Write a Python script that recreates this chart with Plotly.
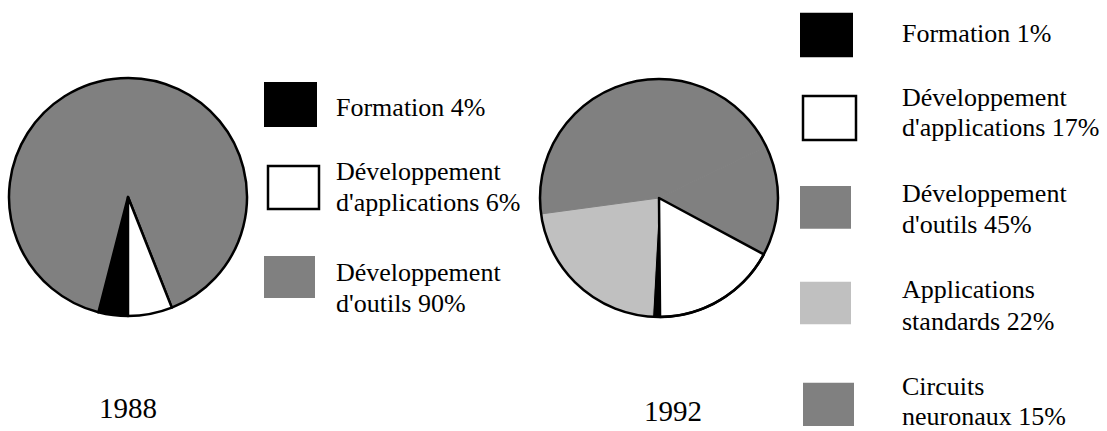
import plotly.graph_objects as go

W, H = 1107, 431
FONT = 'Liberation Serif, "Times New Roman", serif'

# DATA
cats_1988 = ['Formation', "Développement d'applications", "Développement d'outils"]
vals_1988 = [4, 6, 90]
colors_1988 = ['#000000', '#ffffff', '#808080']

cats_1992 = ['Formation', "Développement d'applications", "Développement d'outils",
             'Applications standards', 'Circuits neuronaux']
vals_1992 = [1, 17, 45, 22, 15]
colors_1992 = ['#000000', '#ffffff', '#808080', '#c0c0c0', '#808080']

years = ['1988', '1992']


def px(x):
    return x / W


def py(y):
    return 1 - y / H


def domain(cx, cy, r):
    return dict(x=[px(cx - r), px(cx + r)], y=[py(cy + r), py(cy - r)])


def legend_text(cat, val):
    words = cat.split(' ', 1)
    if len(words) == 1:
        return [f'{cat} {val}%']
    return [words[0], f'{words[1]} {val}%']


fig = go.Figure()

# 1988 pie (slice order chosen so the white wedge is drawn last)
order = [0, 2, 1]
fig.add_trace(go.Pie(
    labels=[cats_1988[i] for i in order], values=[vals_1988[i] for i in order],
    marker=dict(colors=[colors_1988[i] for i in order], line=dict(color='black', width=2.5)),
    sort=False, direction='clockwise', rotation=180, textinfo='none',
    showlegend=False, domain=domain(128, 197, 119)))

# 1992 pie: grey slices get an outline of their own colour so no seam shows
order = [0, 3, 2, 4, 1]
edge = {0: ('black', 1), 1: ('black', 2.5), 2: ('#808080', 1), 3: ('#c0c0c0', 1), 4: ('#808080', 1)}
fig.add_trace(go.Pie(
    labels=[cats_1992[i] for i in order], values=[vals_1992[i] for i in order],
    marker=dict(colors=[colors_1992[i] for i in order],
                line=dict(color=[edge[i][0] for i in order], width=[edge[i][1] for i in order])),
    sort=False, direction='clockwise', rotation=179.5, textinfo='none',
    showlegend=False, domain=domain(659, 198, 119)))
# outer circle of the 1992 pie
fig.add_trace(go.Pie(
    labels=['contour'], values=[1],
    marker=dict(colors=['rgba(0,0,0,0)'], line=dict(color='black', width=2.5)),
    textinfo='none', hoverinfo='skip', showlegend=False, domain=domain(659, 198, 119)))

# hand-drawn legends: swatch boxes and text baselines (pixels)
legend_1988 = [((264, 82, 317, 127), [116.7]),
               ((268, 166, 319, 209), [180, 211.7]),
               ((264, 256, 315, 298), [281.7, 312.7])]
legend_1992 = [((800, 12.7, 853, 57.3), [42]),
               ((803, 96, 856, 140), [106.7, 136.7]),
               ((800, 186, 851, 228.7), [202.3, 233.3]),
               ((800, 281.7, 851, 324.3), [298.3, 330]),
               ((803, 382.7, 854, 426), [395, 425])]

FS = 26
for cats, vals, colors, rows, tx in [(cats_1988, vals_1988, colors_1988, legend_1988, 334),
                                     (cats_1992, vals_1992, colors_1992, legend_1992, 900)]:
    for cat, val, col, (box, bases) in zip(cats, vals, colors, rows):
        x0, y0, x1, y1 = box
        fig.add_shape(type='rect', xref='paper', yref='paper',
                      x0=px(x0), x1=px(x1), y0=py(y1), y1=py(y0),
                      fillcolor=col,
                      line=dict(color='black', width=2.5 if col == '#ffffff' else 0))
        for line, b in zip(legend_text(cat, val), bases):
            fig.add_annotation(text=line, xref='paper', yref='paper',
                               x=px(tx), y=py(b - 0.3375 * FS),
                               xanchor='left', yanchor='middle', showarrow=False,
                               font=dict(size=FS, color='black'))

# year captions
for year, cx, base in zip(years, [127.8, 672.5], [417.3, 420.7]):
    fig.add_annotation(text=year, xref='paper', yref='paper',
                       x=px(cx), y=py(base - 0.3375 * 29),
                       xanchor='center', yanchor='middle', showarrow=False,
                       font=dict(size=29, color='black'))

fig.update_layout(width=W, height=H, margin=dict(l=0, r=0, t=0, b=0),
                  paper_bgcolor='white', plot_bgcolor='white',
                  font_family=FONT, font_color='black')

fig.write_html('out.html', config={'displayModeBar': False},
               post_script="document.body.style.margin='0';")
